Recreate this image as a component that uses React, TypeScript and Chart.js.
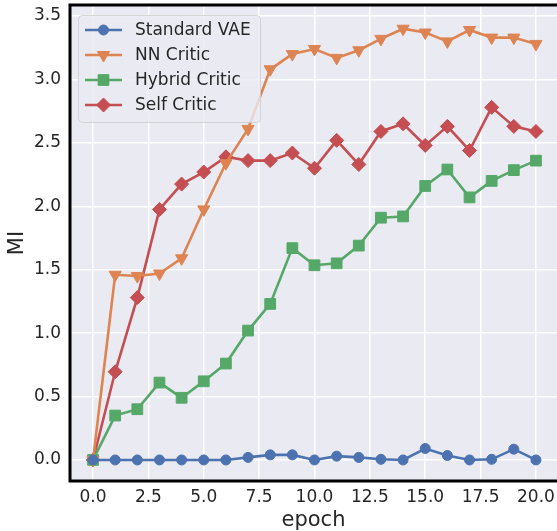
import React, { useEffect, useRef } from 'react';
import { Chart, registerables } from 'chart.js';
import { drawPoint } from 'chart.js/helpers';

Chart.register(...registerables);

const epochs = [0, 1, 2, 3, 4, 5, 6, 7, 8, 9, 10, 11, 12, 13, 14, 15, 16, 17, 18, 19, 20];
const standardVAE = [0, 0, 0, 0, 0, 0, 0, 0.02, 0.04, 0.04, 0.0, 0.03, 0.02, 0.005, 0, 0.09, 0.035, 0, 0.005, 0.085, 0];
const nnCritic = [0, 1.46, 1.45, 1.47, 1.59, 1.975, 2.34, 2.61, 3.08, 3.2, 3.24, 3.17, 3.23, 3.32, 3.4, 3.37, 3.3, 3.39, 3.33, 3.33, 3.28];
const hybridCritic = [0, 0.35, 0.4, 0.61, 0.49, 0.62, 0.76, 1.02, 1.23, 1.67, 1.535, 1.55, 1.69, 1.91, 1.92, 2.16, 2.29, 2.07, 2.2, 2.285, 2.36];
const selfCritic = [0, 0.695, 1.28, 1.975, 2.175, 2.27, 2.39, 2.36, 2.36, 2.42, 2.3, 2.52, 2.33, 2.59, 2.65, 2.48, 2.63, 2.44, 2.78, 2.63, 2.59];
const seriesNames = ['Standard VAE', 'NN Critic', 'Hybrid Critic', 'Self Critic'];
const xTicks = [0, 2.5, 5, 7.5, 10, 12.5, 15, 17.5, 20];
const yTicks = [0, 0.5, 1, 1.5, 2, 2.5, 3, 3.5];

const FONT = "'DejaVu Sans', sans-serif";
const TEXT = '#262626';

const bgPlugin = {
  id: 'axesBg',
  beforeDraw(chart: any) {
    const { ctx, chartArea: a } = chart;
    ctx.save();
    ctx.fillStyle = '#EAEAF2';
    ctx.fillRect(a.left, a.top, a.right - a.left, a.bottom - a.top);
    ctx.restore();
  },
};

const spinesLegendPlugin = {
  id: 'spinesLegend',
  afterDatasetsDraw(chart: any) {
    const { ctx, chartArea: a } = chart;
    ctx.save();
    ctx.strokeStyle = '#000';
    ctx.lineWidth = 3;
    ctx.beginPath();
    ctx.moveTo(a.left, a.top);
    ctx.lineTo(a.right + 2, a.top);
    ctx.moveTo(a.left, a.top - 1.5);
    ctx.lineTo(a.left, a.bottom + 1.5);
    ctx.moveTo(a.left, a.bottom);
    ctx.lineTo(a.right + 2, a.bottom);
    ctx.stroke();

    // legend
    const lx = a.left + 8.5;
    const ly = a.top + 10.5;
    const lw = 182;
    const lh = 107;
    ctx.beginPath();
    ctx.roundRect(lx, ly, lw, lh, 4);
    ctx.fillStyle = 'rgba(234,234,242,0.8)';
    ctx.fill();
    ctx.strokeStyle = 'rgba(204,204,204,0.8)';
    ctx.lineWidth = 1;
    ctx.stroke();

    chart.data.datasets.forEach((ds: any, i: number) => {
      const cy = ly + 14.5 + i * 25;
      const x0 = lx + 6.5;
      const x1 = lx + 43.5;
      ctx.strokeStyle = ds.borderColor;
      ctx.lineWidth = ds.borderWidth;
      ctx.beginPath();
      ctx.moveTo(x0, cy);
      ctx.lineTo(x1, cy);
      ctx.stroke();
      ctx.fillStyle = ds.pointBackgroundColor;
      ctx.strokeStyle = ds.pointBorderColor;
      ctx.lineWidth = ds.pointBorderWidth;
      drawPoint(ctx, { pointStyle: ds.pointStyle, rotation: ds.pointRotation || 0, radius: ds.pointRadius, borderWidth: ds.pointBorderWidth }, (x0 + x1) / 2, cy);
      ctx.fillStyle = TEXT;
      ctx.font = `17px ${FONT}`;
      ctx.textBaseline = 'middle';
      ctx.textAlign = 'left';
      ctx.fillText(ds.label, lx + 56.5, cy + 1);
    });
    ctx.restore();
  },
};

function mk(label: string, values: number[], color: string, style: string, radius: number, rotation = 0) {
  return {
    label,
    data: epochs.map((e, i) => ({ x: e, y: values[i] })),
    borderColor: color,
    backgroundColor: color,
    pointBackgroundColor: color,
    pointBorderColor: color,
    pointBorderWidth: 1,
    borderWidth: 2.6,
    pointStyle: style,
    pointRadius: radius,
    pointRotation: rotation,
    pointHoverRadius: radius,
    tension: 0,
  };
}

function zeroPad(s: any) {
  s.paddingLeft = 0;
  s.paddingRight = 0;
  s.paddingTop = 0;
  s.paddingBottom = 0;
}

export default function App() {
  const ref = useRef<HTMLCanvasElement>(null);
  useEffect(() => {
    if (!ref.current) return;
    const chart = new Chart(ref.current, {
      type: 'line',
      data: {
        datasets: [
          mk(seriesNames[0], standardVAE, '#4C72B0', 'circle', 5),
          mk(seriesNames[1], nnCritic, '#DD8452', 'triangle', 7, 180),
          mk(seriesNames[2], hybridCritic, '#55A868', 'rect', 7.6),
          mk(seriesNames[3], selfCritic, '#C44E52', 'rectRot', 7),
        ] as any,
      },
      options: {
        animation: false,
        responsive: false,
        devicePixelRatio: 1,
        layout: { autoPadding: false, padding: { top: 5, left: 0, right: 0, bottom: 0 } },
        plugins: { legend: { display: false }, tooltip: { enabled: false } },
        scales: {
          x: {
            type: 'linear',
            min: -1.04,
            max: 20.95,
            afterBuildTicks: (s: any) => { s.ticks = xTicks.map((v) => ({ value: v })); },
            afterFit: (s: any) => { s.height = 50; zeroPad(s); },
            grid: { color: '#FFFFFF', lineWidth: 1.5, drawTicks: false },
            border: { display: false },
            ticks: {
              padding: 6,
              color: TEXT,
              font: { family: FONT, size: 17 },
              callback: (v: any) => Number(v).toFixed(1),
              maxRotation: 0,
            },
            title: { display: true, text: 'epoch', color: TEXT, font: { family: FONT, size: 21, lineHeight: 1 }, padding: 0 },
          },
          y: {
            type: 'linear',
            min: -0.166,
            max: 3.587,
            afterBuildTicks: (s: any) => { s.ticks = yTicks.map((v) => ({ value: v })); },
            afterFit: (s: any) => { s.width = 70; zeroPad(s); },
            grid: { color: '#FFFFFF', lineWidth: 1.5, drawTicks: false },
            border: { display: false },
            ticks: {
              padding: 9,
              color: TEXT,
              font: { family: FONT, size: 17 },
              callback: (v: any) => Number(v).toFixed(1),
            },
            title: { display: true, text: 'MI', color: TEXT, font: { family: FONT, size: 21, lineHeight: 1 }, padding: { top: 7.5, bottom: 0 } },
          },
        },
      } as any,
      plugins: [bgPlugin, spinesLegendPlugin],
    });
    return () => chart.destroy();
  }, []);
  return (
    <div style={{ position: 'fixed', left: 0, top: 0, width: 557, height: 531, background: '#fff' }}>
      <canvas ref={ref} width={557} height={531} style={{ width: 557, height: 531, display: 'block' }} />
    </div>
  );
}
